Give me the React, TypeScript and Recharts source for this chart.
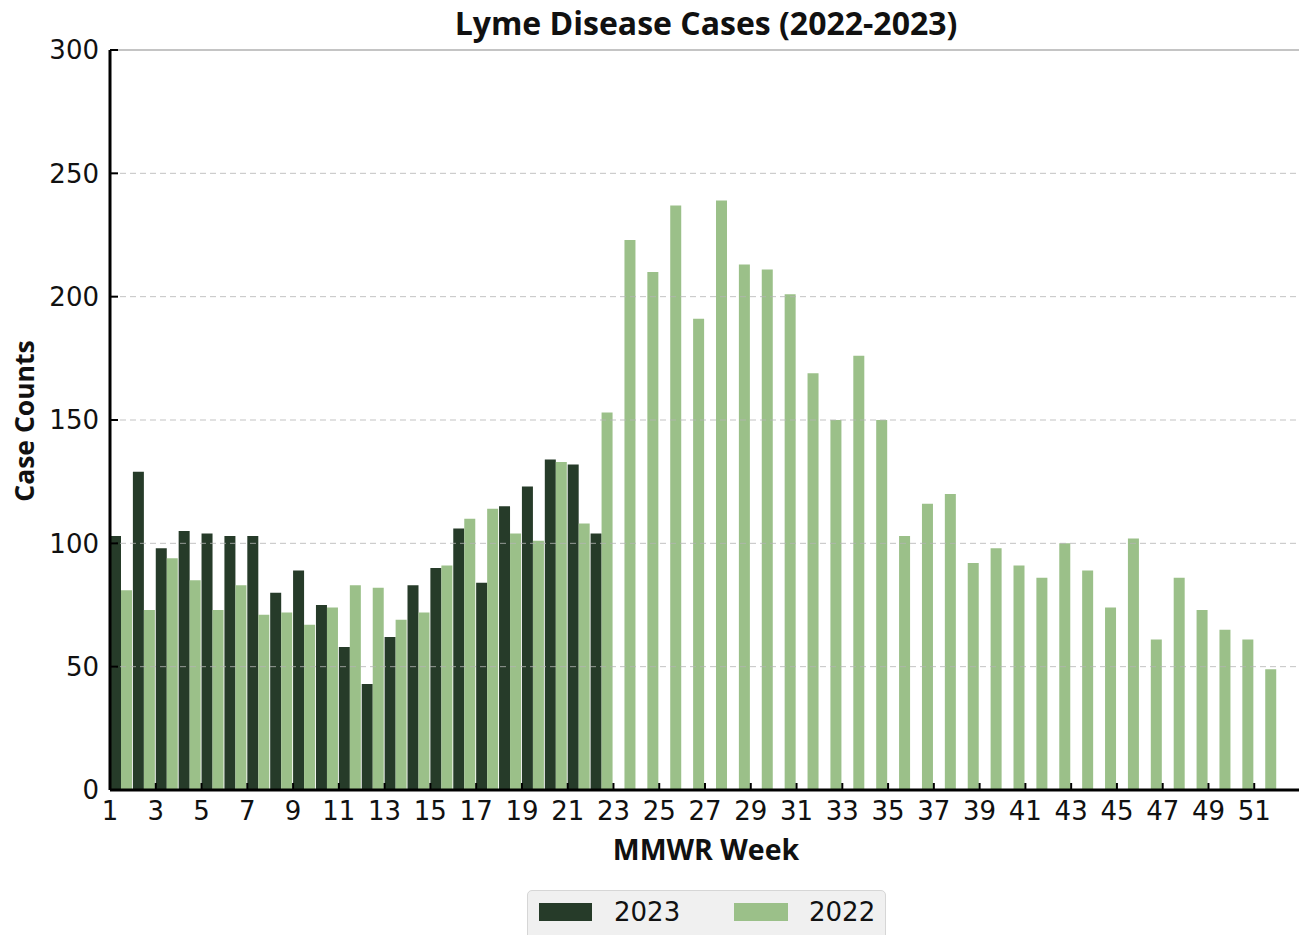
import { BarChart, Bar, XAxis, YAxis, ReferenceLine } from "recharts";

const weeks = [
  1, 2, 3, 4, 5, 6, 7, 8, 9, 10, 11, 12, 13, 14, 15, 16, 17, 18, 19, 20, 21, 22, 23, 24, 25, 26,
  27, 28, 29, 30, 31, 32, 33, 34, 35, 36, 37, 38, 39, 40, 41, 42, 43, 44, 45, 46, 47, 48, 49, 50, 51, 52,
];

const cases2023 = [
  103, 129, 98, 105, 104, 103, 103, 80, 89, 75, 58, 43, 62, 83, 90, 106, 84, 115, 123, 134, 132, 104,
];

const cases2022 = [
  81, 73, 94, 85, 73, 83, 71, 72, 67, 74, 83, 82, 69, 72, 91, 110, 114, 104, 101, 133, 108, 153,
  223, 210, 237, 191, 239, 213, 211, 201, 169, 150, 176, 150, 103, 116, 120, 92, 98, 91, 86, 100,
  89, 74, 102, 61, 86, 73, 65, 61, 49,
];

const yTicks = [0, 50, 100, 150, 200, 250, 300];
const gridValues = [50, 100, 150, 200, 250];

const DARK = "#263b29";
const LIGHT = "#9bc089";

const data = weeks.map((w, i) => ({
  week: w,
  y2023: cases2023[i] ?? null,
  y2022: cases2022[i] ?? null,
}));

const W = 1299;
const H = 935;
const PLOT_LEFT = 110;
const PLOT_RIGHT = 1300;
const BAND = (PLOT_RIGHT - PLOT_LEFT) / weeks.length;

const tickFont = "'DejaVu Sans', sans-serif";
const labelFont = "'Open Sans', 'Noto Sans', sans-serif";

function XTick(props: any) {
  const { x, y, payload } = props;
  const lx = x - BAND / 2;
  return (
    <g>
      <line x1={lx} x2={lx} y1={y} y2={y - 7} stroke="#000" strokeWidth={2} />
      <text x={lx} y={y + 30} textAnchor="middle" fontFamily={tickFont} fontSize={26} fill="#111">
        {payload.value}
      </text>
    </g>
  );
}

function YTick(props: any) {
  const { x, y, payload } = props;
  return (
    <g>
      <line x1={x} x2={x + 8} y1={y} y2={y} stroke="#000" strokeWidth={2} />
      <text x={x - 11} y={y} dy="0.36em" textAnchor="end" fontFamily={tickFont} fontSize={26} fill="#111">
        {payload.value}
      </text>
    </g>
  );
}

export default function App() {
  return (
    <div style={{ position: "absolute", left: 0, top: 0, width: W, height: H, background: "#fff", overflow: "hidden" }}>
      <BarChart
        width={PLOT_RIGHT + 1}
        height={H}
        data={data}
        margin={{ top: 50, right: 1, bottom: 115, left: 0 }}
        barCategoryGap={0}
        barGap={0}
      >
        <XAxis
          dataKey="week"
          interval={1}
          height={30}
          tickSize={0}
          tickMargin={0}
          tickLine={false}
          axisLine={{ stroke: "#000", strokeWidth: 3 }}
          tick={<XTick />}
        />
        <YAxis
          domain={[0, 300]}
          ticks={yTicks}
          width={PLOT_LEFT}
          tickSize={0}
          tickMargin={0}
          tickLine={false}
          axisLine={{ stroke: "#000", strokeWidth: 3 }}
          tick={<YTick />}
        />
        <Bar dataKey="y2023" name="2023" fill={DARK} isAnimationActive={false} />
        <Bar dataKey="y2022" name="2022" fill={LIGHT} isAnimationActive={false} />
        {gridValues.map((v) => (
          <ReferenceLine key={v} y={v} stroke="#b4b4b4" strokeOpacity={0.8} strokeDasharray="6 4" strokeWidth={1} />
        ))}
        <ReferenceLine y={300} stroke="#c4c4c4" strokeWidth={2} />
      </BarChart>

      <div
        style={{
          position: "absolute",
          left: 0,
          width: 1412,
          top: 1,
          textAlign: "center",
          fontFamily: labelFont,
          fontWeight: 700,
          fontSize: 32,
          lineHeight: "44px",
          color: "#111",
        }}
      >
        Lyme Disease Cases (2022-2023)
      </div>
      <div
        style={{
          position: "absolute",
          left: 0,
          width: 1412,
          top: 830,
          textAlign: "center",
          fontFamily: labelFont,
          fontWeight: 700,
          fontSize: 28.5,
          lineHeight: "38px",
          color: "#111",
        }}
      >
        MMWR Week
      </div>
      <div
        style={{
          position: "absolute",
          left: 24 - 150,
          top: 421 - 18,
          width: 300,
          textAlign: "center",
          fontFamily: labelFont,
          fontWeight: 700,
          fontSize: 26.5,
          lineHeight: "36px",
          color: "#111",
          transform: "rotate(-90deg)",
        }}
      >
        Case Counts
      </div>

      <div
        style={{
          position: "absolute",
          left: 527,
          top: 890,
          width: 359,
          height: 52,
          boxSizing: "border-box",
          background: "#f0f0f0",
          border: "1px solid #d6d6d6",
          borderRadius: 5,
          fontFamily: tickFont,
          fontSize: 26,
          color: "#111",
        }}
      >
        <div style={{ position: "absolute", left: 11, top: 12, width: 53, height: 18, background: DARK }} />
        <div style={{ position: "absolute", left: 86, top: 3, lineHeight: "36px" }}>2023</div>
        <div style={{ position: "absolute", left: 206, top: 12, width: 54, height: 18, background: LIGHT }} />
        <div style={{ position: "absolute", left: 281, top: 3, lineHeight: "36px" }}>2022</div>
      </div>
    </div>
  );
}
